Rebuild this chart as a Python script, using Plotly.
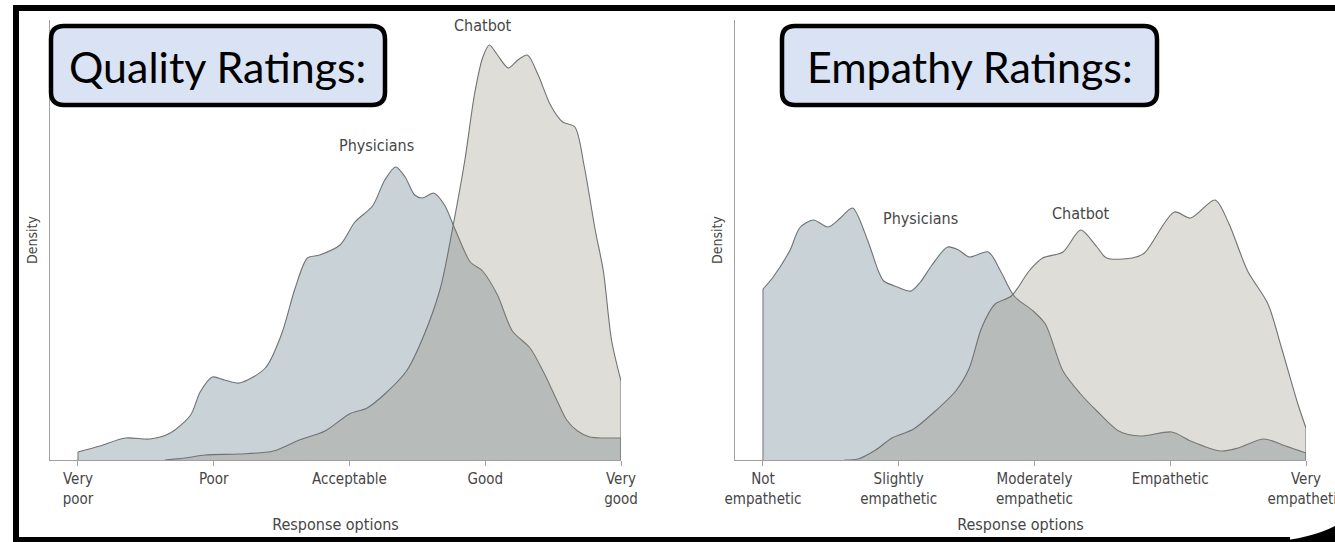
import plotly.graph_objects as go

W, H = 1335, 542

# ---------------- data ----------------
tick_vals = [0, 1, 2, 3, 4]
quality_ticks = ["Very<br>poor", "Poor", "Acceptable", "Good", "Very<br>good"]
empathy_ticks = ["Not<br>empathetic", "Slightly<br>empathetic", "Moderately<br>empathetic",
                 "Empathetic", "Very<br>empathetic"]

q_phys_x = [0, 0.16, 0.35, 0.53, 0.68, 0.83, 0.90, 0.99, 1.08, 1.19, 1.38, 1.50, 1.60, 1.69,
            1.78, 1.93, 2.04, 2.17, 2.26, 2.34, 2.41, 2.48, 2.54, 2.62, 2.70, 2.78, 2.89, 2.98,
            3.09, 3.20, 3.33, 3.44, 3.52, 3.60, 3.68, 3.77, 3.88, 4.0]
q_phys_y = [8, 14, 22, 21, 27, 45, 68, 83, 80, 77, 92, 126, 172, 202,
            205, 215, 238, 254, 280, 293, 283, 265, 262, 267, 255, 230, 198, 189,
            165, 129, 112, 85, 62, 40, 29, 23, 22, 22]

q_chat_x = [0.64, 0.79, 0.94, 1.19, 1.44, 1.63, 1.82, 2.0, 2.13, 2.26, 2.42, 2.54, 2.67, 2.76,
            2.85, 2.92, 2.98, 3.03, 3.09, 3.17, 3.24, 3.31, 3.39, 3.48, 3.57, 3.66, 3.73, 3.81,
            3.87, 3.93, 4.0]
q_chat_y = [0, 2, 5, 6, 9, 20, 29, 46, 52, 66, 89, 122, 172, 232,
            300, 365, 402, 415, 405, 392, 400, 405, 385, 355, 338, 333, 293, 230,
            189, 120, 79]

e_phys_x = [0, 0.07, 0.20, 0.27, 0.37, 0.48, 0.57, 0.66, 0.77, 0.85, 0.89, 0.99, 1.09, 1.16,
            1.24, 1.36, 1.44, 1.52, 1.66, 1.75, 1.85, 1.99, 2.08, 2.21, 2.34, 2.46, 2.62, 2.78,
            3.01, 3.15, 3.37, 3.50, 3.69, 3.85, 4.0]
e_phys_y = [171, 182, 210, 232, 240, 233, 242, 252, 220, 189, 179, 173, 169, 178,
            194, 213, 210, 203, 208, 189, 164, 149, 136, 89, 66, 49, 29, 24,
            28, 19, 9, 12, 21, 14, 7]

e_chat_x = [0.60, 0.70, 0.83, 0.95, 1.11, 1.27, 1.42, 1.52, 1.61, 1.71, 1.83, 1.96, 2.06, 2.21,
            2.34, 2.46, 2.53, 2.72, 2.81, 3.03, 3.15, 3.33, 3.43, 3.57, 3.72, 3.82, 3.94, 4.0]
e_chat_y = [0, 1, 10, 22, 31, 49, 69, 92, 132, 156, 164, 189, 202, 208,
            230, 213, 202, 202, 207, 248, 242, 260, 237, 189, 156, 112, 56, 32]

# ---------------- styles ----------------
PHYS_FILL = "rgb(200,210,215)"
CHAT_FILL = "rgba(140,132,116,0.28)"
LINE_COL = "rgb(112,114,116)"
AX_COL = "rgb(160,160,160)"
TXT_COL = "rgb(70,70,70)"
LABEL_FONT = "DejaVu Sans Condensed, Liberation Sans Narrow, Liberation Sans, sans-serif"

fig = go.Figure()


def add_curve(x, y, fill, xa, ya):
    fig.add_trace(go.Scatter(x=x, y=y, mode="lines", fill="tozeroy", fillcolor=fill,
                             line=dict(color=LINE_COL, width=1.1, shape="spline", smoothing=0.8),
                             xaxis=xa, yaxis=ya, hoverinfo="skip", showlegend=False))
    # vertical edges at the ends of the curve
    for xe, ye in ((x[0], y[0]), (x[-1], y[-1])):
        if ye > 0:
            fig.add_trace(go.Scatter(x=[xe, xe], y=[0, ye], mode="lines",
                                     line=dict(color=LINE_COL, width=1), xaxis=xa, yaxis=ya,
                                     hoverinfo="skip", showlegend=False))


add_curve(q_phys_x, q_phys_y, PHYS_FILL, "x", "y")
add_curve(q_chat_x, q_chat_y, CHAT_FILL, "x", "y")
add_curve(e_phys_x, e_phys_y, PHYS_FILL, "x2", "y2")
add_curve(e_chat_x, e_chat_y, CHAT_FILL, "x2", "y2")

# ---------------- axes ----------------
x_range = [-0.206, 4.0]
y_range = [0, 440]
ydom = [(H - 460) / H, (H - 20) / H]

common_x = dict(range=x_range, showgrid=False, zeroline=False, showline=True, linecolor=AX_COL,
                linewidth=1, ticks="outside", ticklen=5, tickcolor=AX_COL, tickvals=tick_vals,
                automargin=False, ticklabeloverflow="allow",
                tickfont=dict(family=LABEL_FONT, size=15, color=TXT_COL),
                title=dict(text="Response options", standoff=12,
                           font=dict(family=LABEL_FONT, size=16, color=TXT_COL)))
common_y = dict(range=y_range, showgrid=False, zeroline=False, showline=True, linecolor=AX_COL,
                linewidth=1, showticklabels=False, ticks="", domain=ydom, automargin=False,
                title=dict(text="Density", standoff=8,
                           font=dict(family=LABEL_FONT, size=14, color=TXT_COL)))

fig.update_layout(
    width=W, height=H, margin=dict(l=0, r=0, t=0, b=0, autoexpand=False),
    paper_bgcolor="white", plot_bgcolor="white",
    xaxis=dict(common_x, domain=[50 / W, 621 / W], ticktext=quality_ticks, anchor="y"),
    yaxis=dict(common_y, anchor="x"),
    xaxis2=dict(common_x, domain=[735 / W, 1306 / W], ticktext=empathy_ticks, anchor="y2"),
    yaxis2=dict(common_y, anchor="x2"),
)

# curve labels
lab = dict(family=LABEL_FONT, size=16, color=TXT_COL)
fig.add_annotation(x=2.98, y=435, xref="x", yref="y", text="Chatbot", showarrow=False, font=lab)
fig.add_annotation(x=2.20, y=315, xref="x", yref="y", text="Physicians", showarrow=False, font=lab)
fig.add_annotation(x=1.16, y=242, xref="x2", yref="y2", text="Physicians", showarrow=False, font=lab)
fig.add_annotation(x=2.34, y=247, xref="x2", yref="y2", text="Chatbot", showarrow=False, font=lab)


# ---------------- decorations (pixel helpers) ----------------
def px(x):
    return x / W


def py(y):
    return 1 - y / H


def rounded_box(x0, y0, x1, y1, r):
    return (f"M {px(x0 + r)} {py(y0)} L {px(x1 - r)} {py(y0)} Q {px(x1)} {py(y0)} {px(x1)} {py(y0 + r)} "
            f"L {px(x1)} {py(y1 - r)} Q {px(x1)} {py(y1)} {px(x1 - r)} {py(y1)} "
            f"L {px(x0 + r)} {py(y1)} Q {px(x0)} {py(y1)} {px(x0)} {py(y1 - r)} "
            f"L {px(x0)} {py(y0 + r)} Q {px(x0)} {py(y0)} {px(x0 + r)} {py(y0)} Z")


for (bx0, by0, bx1, by1, label) in [(51, 26, 385, 105, "Quality Ratings:"),
                                     (782, 26, 1157, 105, "Empathy Ratings:")]:
    fig.add_shape(type="path", path=rounded_box(bx0, by0, bx1, by1, 13), xref="paper", yref="paper",
                  fillcolor="rgb(218,227,243)", line=dict(color="black", width=4.5), layer="above")
    fig.add_annotation(x=px((bx0 + bx1) / 2), y=py((by0 + by1) / 2 + 1), xref="paper", yref="paper",
                       xanchor="center", yanchor="middle", text=label, showarrow=False,
                       font=dict(family="Lato, Carlito, Calibri, sans-serif", size=43, color="black"))

# black frame
fig.add_shape(type="rect", x0=px(13), x1=px(19), y0=py(5), y1=py(542), xref="paper", yref="paper",
              fillcolor="black", line=dict(width=0))
fig.add_shape(type="rect", x0=px(13), x1=px(1335), y0=py(5), y1=py(11), xref="paper", yref="paper",
              fillcolor="black", line=dict(width=0))
fig.add_shape(type="rect", x0=px(13), x1=px(1290), y0=py(537), y1=py(542), xref="paper", yref="paper",
              fillcolor="black", line=dict(width=0))
fig.add_shape(type="path",
              path=f"M {px(1268)} {py(542)} Q {px(1310)} {py(539)} {px(1335)} {py(526)} L {px(1335)} {py(542)} Z",
              xref="paper", yref="paper", fillcolor="black", line=dict(width=0))

fig.write_html("out.html", config={"displayModeBar": False},
               post_script="document.body.style.margin='0';document.body.style.overflow='hidden';")
